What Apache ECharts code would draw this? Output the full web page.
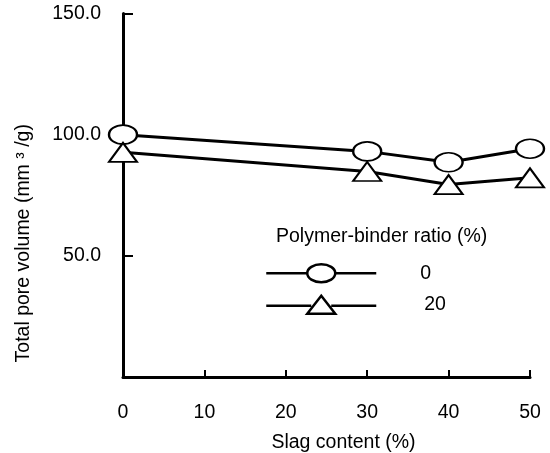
<!DOCTYPE html>
<html>
<head>
<meta charset="utf-8">
<script src="https://cdn.jsdelivr.net/npm/echarts@6/dist/echarts.min.js"></script>
<style>html,body{margin:0;padding:0;background:#fff}#c{width:550px;height:453px}</style>
</head>
<body>
<div id="c"></div>
<script>
// Data
const slag = [0, 30, 40, 50];
const ratio0 = [100.0, 93.1, 88.6, 94.2];
const ratio20 = [92.7, 84.8, 79.4, 82.2];
const seriesNames = ['0', '20'];
const xTicks = [0, 10, 20, 30, 40, 50];
const yTicks = [50, 100, 150];

const FONT = 'Liberation Sans, Arial, sans-serif';
const FS = 19.5;
const chart = echarts.init(document.getElementById('c'));

const circleIcon = 'path://M0 10 L41 10 M69 10 L110 10 M41 10 A14 9 0 1 1 69 10 A14 9 0 1 1 41 10 Z';
const triIcon = 'path://M0 11 L45 11 M65 11 L110 11 M41 19 L55 1 L69 19 Z';

function pairs(xs, ys) { return xs.map((x, i) => [x, ys[i]]); }

chart.setOption({
  animation: false,
  backgroundColor: '#fff',
  textStyle: { fontFamily: FONT },
  title: {
    text: 'Polymer-binder ratio (%)',
    left: 276, top: 227, padding: 0,
    textStyle: { fontSize: FS, fontWeight: 'normal', color: '#000', fontFamily: FONT }
  },
  legend: {
    orient: 'vertical',
    left: 265, top: 263,
    itemWidth: 110, itemHeight: 18, itemGap: 11,
    padding: 0,
    data: [
      { name: seriesNames[0], icon: circleIcon },
      { name: seriesNames[1], icon: triIcon }
    ],
    itemStyle: { color: '#fff', borderColor: '#000', borderWidth: 2.5 },
    formatter: function (n) { return n === '20' ? '{b|' + n + '}' : '{a|' + n + '}'; },
    textStyle: {
      fontSize: FS, color: '#000', fontFamily: FONT,
      rich: {
        a: { fontSize: FS, padding: [0, 0, 0, 39], fontFamily: FONT, color: '#000' },
        b: { fontSize: FS, padding: [0, 0, 0, 43], fontFamily: FONT, color: '#000' }
      }
    }
  },
  grid: { left: 123, right: 20, top: 13.5, bottom: 76, containLabel: false, outerBoundsMode: 'none' },
  xAxis: {
    type: 'value', min: xTicks[0], max: xTicks[xTicks.length - 1], interval: 10,
    name: 'Slag content (%)', nameLocation: 'middle', nameGap: 56,
    nameTextStyle: { fontSize: FS, color: '#000', fontFamily: FONT, padding: [0, 0, 0, 34] },
    axisLine: { lineStyle: { color: '#000', width: 3 } },
    axisTick: { inside: true, length: 7, lineStyle: { color: '#000', width: 2 } },
    axisLabel: { fontSize: FS, color: '#000', margin: 26, fontFamily: FONT },
    splitLine: { show: false }
  },
  yAxis: {
    type: 'value', min: 0, max: yTicks[yTicks.length - 1], interval: 50,
    name: 'Total pore volume (mm ³ /g)', nameLocation: 'middle', nameGap: 89,
    nameTextStyle: { fontSize: FS, color: '#000', fontFamily: FONT, padding: [0, 96, 0, 0] },
    axisLine: { lineStyle: { color: '#000', width: 3 } },
    axisTick: { inside: true, length: 10, lineStyle: { color: '#000', width: 2 } },
    axisLabel: {
      fontSize: FS, color: '#000', margin: 22, fontFamily: FONT,
      formatter: function (v) { return yTicks.indexOf(v) >= 0 ? v.toFixed(1) : ''; }
    },
    splitLine: { show: false }
  },
  series: [
    {
      name: seriesNames[0], type: 'line', data: pairs(slag, ratio0),
      symbol: 'circle', symbolSize: [28, 19],
      lineStyle: { color: '#000', width: 3 },
      itemStyle: { color: '#fff', borderColor: '#000', borderWidth: 2 },
      z: 3
    },
    {
      name: seriesNames[1], type: 'line', data: pairs(slag, ratio20),
      symbol: 'triangle', symbolSize: [28, 19],
      lineStyle: { color: '#000', width: 3 },
      itemStyle: { color: '#fff', borderColor: '#000', borderWidth: 2 },
      z: 4
    }
  ]
});
</script>
</body>
</html>
